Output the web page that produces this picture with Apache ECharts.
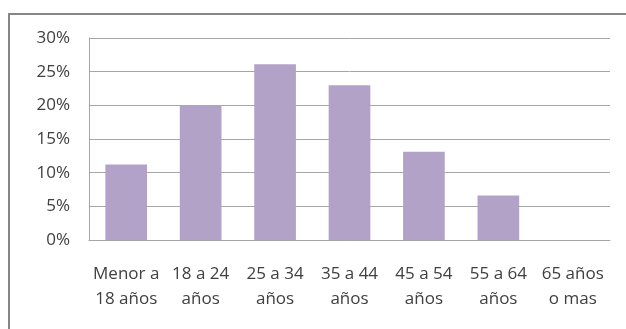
<!DOCTYPE html>
<html>
<head>
<meta charset="utf-8">
<script src="https://cdn.jsdelivr.net/npm/echarts@6/dist/echarts.min.js"></script>
<style>
    html, body {margin: 0; padding: 0; background: #fff;}
    #chart {width: 626px; height: 329px;}
</style>
</head>
<body>
<div id="chart"></div>
<script>
// rangos de edad y porcentajes
var categorias = ["Menor a\n18 años", "18 a 24\naños", "25 a 34\naños", "35 a 44\naños", "45 a 54\naños", "55 a 64\naños", "65 años\no mas"];
var valores = [11.2, 20.0, 26.1, 23.0, 13.1, 6.6, 0];
var ticksY = [0, 5, 10, 15, 20, 25, 30];

var textColor = "#404040";
var gridLine = {lineStyle: {color: "#a6a6a6", width: 1}};

var opt = {
    animation: false,
    textStyle: {fontFamily: "Open Sans"},
    grid: {left: 89, right: 16, top: 38, bottom: 89},
    graphic: [{
        type: "rect",
        shape: {x: 9, y: 14, width: 640, height: 400},
        style: {fill: "none", stroke: "#868686", lineWidth: 2}
    }],
    xAxis: {
        type: "category",
        data: categorias,
        axisLine: gridLine,
        axisTick: {show: false},
        axisLabel: {
            color: textColor,
            fontSize: 17,
            lineHeight: 25,
            margin: 22,
            interval: 0
        }
    },
    yAxis: {
        type: "value",
        min: ticksY[0],
        max: ticksY[ticksY.length - 1],
        interval: 5,
        axisLine: {show: true, lineStyle: {color: "#a6a6a6"}},
        axisTick: {show: false},
        splitLine: gridLine,
        axisLabel: {
            color: textColor,
            fontSize: 17,
            margin: 19,
            formatter: "{value}%"
        }
    },
    series: [{
        type: "bar",
        data: valores,
        barWidth: "56%",
        itemStyle: {color: "#b3a2c7"}
    }]
};

var chart = echarts.init(document.getElementById("chart"));
chart.setOption(opt);
</script>
</body>
</html>
